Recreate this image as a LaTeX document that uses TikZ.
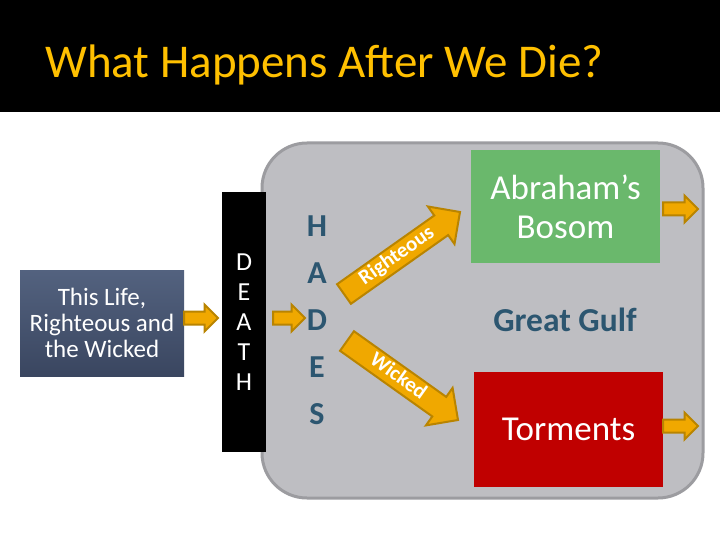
\documentclass[tikz,border=0pt]{standalone}
\usepackage{fontspec}
\setmainfont{Carlito}
\usetikzlibrary{calc}
\usetikzlibrary{positioning}
\usetikzlibrary{shapes.arrows}

\definecolor{titlegold}{HTML}{FFC000}
\definecolor{hadesgray}{HTML}{BEBEC2}
\definecolor{hadesrim}{HTML}{9C9CA0}
\definecolor{arrowfill}{HTML}{F0A800}
\definecolor{arrowrim}{HTML}{B98400}
\definecolor{slatetop}{HTML}{53627F}
\definecolor{slatebot}{HTML}{3A4660}
\definecolor{bosomgreen}{HTML}{6AB86C}
\definecolor{tormentred}{HTML}{C00000}
\definecolor{hadesteal}{HTML}{2C5670}

\begin{document}
\begin{tikzpicture}[x=1pt, y=-1pt, semithick]
    \tikzstyle{fatarrow}=[single arrow, fill=arrowfill, draw=arrowrim, line width=2pt, anchor=tail, outer sep=0pt, inner xsep=0pt, inner ysep=5.5pt, single arrow head extend=7pt]
    \tikzstyle{wordarrow}=[fatarrow, inner ysep=2pt, single arrow head extend=11pt, text height=14pt, text depth=4pt, text=white, font=\bfseries\fontsize{21}{24}\selectfont]
    \tikzstyle{fatlink}=[to path={let \p1=($(\tikztotarget)-(\tikztostart)$) in node[fatarrow, minimum height={veclen(\x1,\y1)}, rotate={atan2(\y1,\x1)}] at (\tikztostart) {} (\tikztotarget)}]
    \tikzstyle{wordlink}=[to path={let \p1=($(\tikztotarget)-(\tikztostart)$) in node[wordarrow, minimum height={veclen(\x1,\y1)}, rotate={atan2(\y1,\x1)}] at (\tikztostart) {#1} (\tikztotarget)}]
    \tikzstyle{box}=[rectangle, outer sep=0pt, inner sep=0pt, align=center, text=white]
    \tikzstyle{place}=[box, minimum width=189pt, font=\fontsize{35}{39}\selectfont]
    \tikzstyle{stacked}=[align=center, inner sep=0pt, font=\bfseries\fontsize{32}{47}\selectfont, text=hadesteal]

    \useasboundingbox (0,0) rectangle (720,540);
    \fill[white] (0,0) rectangle (720,540);
    \fill[black] (0,0) rectangle (720,112);
    \node[anchor=base west, inner sep=0pt, text=titlegold, font=\fontsize{47}{50}\selectfont] (title) at (45,78) {What Happens After We Die?};

    % the realm of the dead
    \draw[hadesrim, fill=hadesgray, line width=3pt, rounded corners=45pt] (262,143) rectangle (703,498);

    \node[box, minimum width=164pt, minimum height=106pt, top color=slatetop, bottom color=slatebot, font=\fontsize{25}{26}\selectfont]
        (life) at (102,323) {This Life,\\Righteous and\\the Wicked};
    \node[box, fill=black, minimum width=44pt, minimum height=260pt, font=\fontsize{26}{30}\selectfont]
        (death) at (244,322) {D\\E\\A\\T\\H};
    \node[stacked]  (hades) at (317,320) {H\\A\\D\\E\\S};
    \node[place, fill=bosomgreen, minimum height=113pt]    (bosom) at (565.5,206.5) {Abraham’s\\Bosom};
    \node[place, fill=tormentred, minimum height=115pt]    (torments) at (568.5,429.5) {Torments};
    \node[stacked, font=\bfseries\fontsize{33.5}{38}\selectfont]  (gulf) at (565,320) {Great Gulf};

    \coordinate (mid) at (0,318);
    \coordinate (deathin) at (218,318);
    \coordinate (deathout) at (273,318);
    \coordinate (hadesin) at (305,318);
    \coordinate (rtail) at (344,294);
    \coordinate (rtip) at (460,212);
    \coordinate (wtail) at (347,341);
    \coordinate (wtip) at (458,420);
    \coordinate (bosomout) at (663,209);
    \coordinate (bosomend) at (698,209);
    \coordinate (tormend) at (698,426);

    \path
    (life.east |- mid)          to[fatlink]             (deathin)
    (deathout)                  to[fatlink]             (hadesin)
    (rtail)                     to[wordlink=Righteous]  (rtip)
    (wtail)                     to[wordlink=Wicked]     (wtip)
    (bosomout)                  to[fatlink]             (bosomend)
    (torments.east |- tormend)  to[fatlink]             (tormend);
%   \node[below=4pt of gulf] {};
\end{tikzpicture}
\end{document}
